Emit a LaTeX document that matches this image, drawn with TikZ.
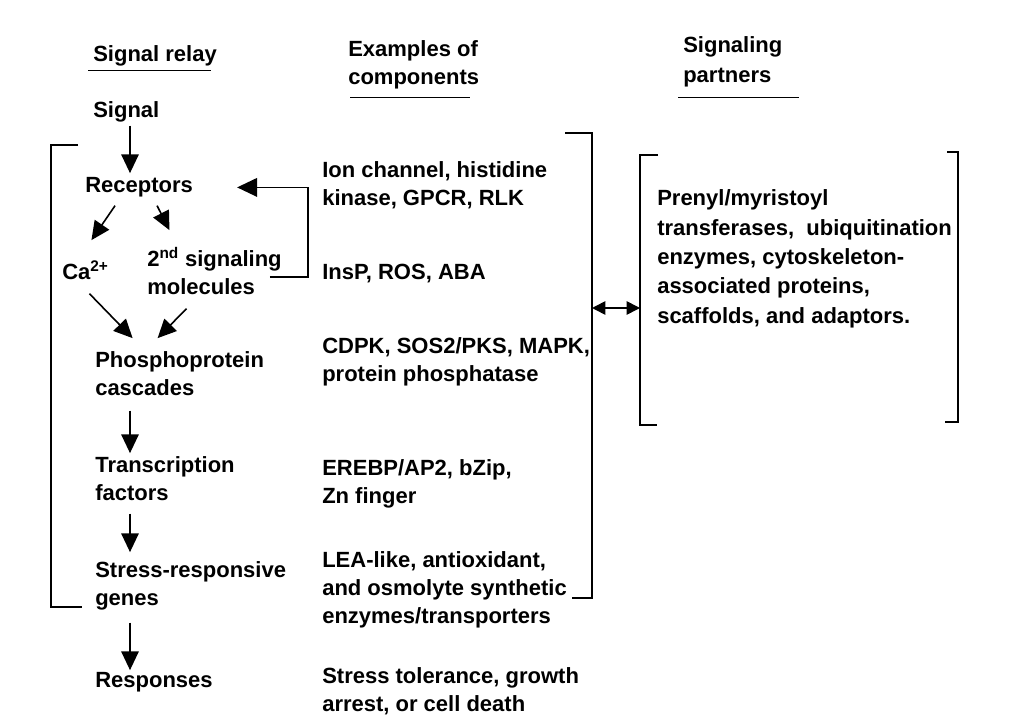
\documentclass[tikz,border=0pt]{standalone}
\usepackage{fontspec}
\setmainfont{Liberation Sans}
\usetikzlibrary{arrows.meta,calc}
\newcommand{\mlt}[1]{\begin{tabular}[t]{@{}l@{}}#1\end{tabular}}
\begin{document}
\begin{tikzpicture}[x=0.75pt,y=-0.75pt,
  txt/.style={anchor=base west,inner sep=0pt,font=\fontsize{16.5}{21}\selectfont\bfseries},
  ptxt/.style={txt,font=\fontsize{16.5}{22}\selectfont\bfseries},
  arr/.style={line width=1.2pt,-{Triangle[length=14pt,width=13pt]}},
  bigarr/.style={line width=1.2pt,-{Triangle[length=15pt,width=14pt]}},
  darr/.style={line width=1.2pt,{Triangle[length=10pt,width=10pt]}-{Triangle[length=10pt,width=10pt]}},
  brk/.style={line width=1.3pt},
  uline/.style={line width=1pt}]
\useasboundingbox (0,0) rectangle (1024,727);
\fill[white] (0,0) rectangle (1024,727);

% headers
\node[txt] (hdr1) at (93,62) {\mlt{Signal relay}};
\node[txt] (hdr2) at (348,57) {\mlt{Examples of\\components}};
\node[ptxt] (hdr3) at (683,53) {\mlt{Signaling\\partners}};
\draw[uline] ($(hdr1.south west)+(-5,0)$) -- ($(hdr1.south east)+(-6,0)$);
\draw[uline] ($(hdr2.south west)+(2,4)$) -- ($(hdr2.south east)+(-9,4)$);
\draw[uline] ($(hdr3.south west)+(-5,6)$) -- ($(hdr3.south east)+(16,6)$);

% signal relay column
\node[txt] (sig) at (93,118) {\mlt{Signal}};
\node[txt] (rec) at (85,193) {\mlt{Receptors}};
\node[txt] (ca) at (62,280) {\mlt{Ca\textsuperscript{2+}}};
\node[txt] (sec) at (147,267) {\mlt{2\textsuperscript{nd} signaling\\molecules}};
\node[txt] (pho) at (95,367) {\mlt{Phosphoprotein\\cascades}};
\node[txt] (tf) at (95,472) {\mlt{Transcription\\factors}};
\node[txt] (srg) at (95,577) {\mlt{Stress-responsive\\genes}};
\node[txt] (resp) at (95,687) {\mlt{Responses}};

% examples column
\node[txt] (m1) at (322,178) {\mlt{Ion channel, histidine\\kinase, GPCR, RLK}};
\node[txt] (m2) at (322,280) {\mlt{InsP, ROS, ABA}};
\node[txt] (m3) at (322,353) {\mlt{CDPK, SOS2/PKS, MAPK,\\protein phosphatase}};
\node[txt] (m4) at (322,475) {\mlt{EREBP/AP2, bZip,\\Zn finger}};
\node[txt] (m5) at (322,567) {\mlt{LEA-like, antioxidant,\\and osmolyte synthetic\\enzymes/transporters}};
\node[txt] (m6) at (322,683) {\mlt{Stress tolerance, growth\\arrest, or cell death}};

% partners
\node[ptxt] (part) at (657,206) {\mlt{Prenyl/myristoyl\\transferases,\ \ ubiquitination\\enzymes, cytoskeleton-\\associated proteins,\\scaffolds, and adaptors.}};

% arrows in signal relay
\draw[arr] ($(sig.south west)+(37,-1)$) -- ($(rec.north west)+(45,0)$);
\draw[arr] ($(rec.south)+(-24,4)$) -- ($(ca.north)+(6,-20)$);
\draw[arr] ($(rec.south)+(18,4)$) -- ($(sec.north)+(-45,-17)$);
\draw[arr] ($(ca.south)+(4,5)$) -- ($(pho.north)+(-47,-9)$);
\draw[arr] ($(sec.south)+(-28,5)$) -- ($(pho.north)+(-22,-9)$);
\draw[arr] ($(pho.south west)+(35,7)$) -- ($(tf.north west)+(35,1)$);
\draw[arr] ($(tf.south west)+(35,5)$) -- ($(srg.north west)+(35,-5)$);
\draw[arr] ($(srg.south west)+(35,9)$) -- ($(resp.north west)+(35,3)$);

% feedback from second messengers to receptors
\draw[bigarr] ($(sec.north east)+(-12,30)$) -- ++(38,0) |- ($(rec.east)+(44,0)$);

% brackets
\draw[brk] (78,145) -- (51,145) -- (51,607) -- (82,607);
\draw[brk] (565,133) -- (592,133) -- (592,598) -- (572,598);
\draw[brk] (658,155) -- (640,155) -- (640,425) -- (657,425);
\draw[brk] (947,152) -- (958,152) -- (958,422) -- (945,422);
\coordinate (mb) at (592,308);
\coordinate (pb) at (640,308);
\draw[darr] (mb) -- (pb);
\end{tikzpicture}
\end{document}
